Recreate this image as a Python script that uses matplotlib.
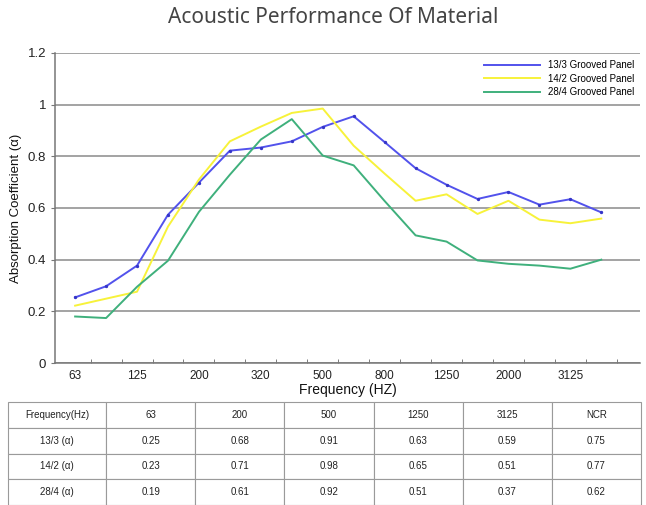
import matplotlib.pyplot as plt
import numpy as np

# frequency bands on the x axis (only every other one is labelled)
freq_labels = ["63", "", "125", "", "200", "", "320", "", "500", "",
               "800", "", "1250", "", "2000", "", "3125", ""]

panel_13_3 = [0.254, 0.297, 0.377, 0.574, 0.698, 0.822, 0.834, 0.858, 0.914,
              0.955, 0.855, 0.754, 0.690, 0.635, 0.662, 0.613, 0.634, 0.583]
panel_14_2 = [0.222, 0.249, 0.276, 0.528, 0.710, 0.858, 0.915, 0.968, 0.985,
              0.841, 0.733, 0.628, 0.653, 0.577, 0.628, 0.555, 0.541, 0.559]
panel_28_4 = [0.180, 0.174, 0.295, 0.396, 0.585, 0.729, 0.865, 0.944, 0.803,
              0.765, 0.627, 0.494, 0.470, 0.397, 0.384, 0.377, 0.365, 0.400]

table_header = ["Frequency(Hz)", "63", "200", "500", "1250", "3125", "NCR"]
table_rows = [
    ["13/3 (α)", "0.25", "0.68", "0.91", "0.63", "0.59", "0.75"],
    ["14/2 (α)", "0.23", "0.71", "0.98", "0.65", "0.51", "0.77"],
    ["28/4 (α)", "0.19", "0.61", "0.92", "0.51", "0.37", "0.62"],
]

plt.rcParams["font.family"] = ["Liberation Sans", "DejaVu Sans"]

fig = plt.figure(figsize=(6.46, 5.05), dpi=100)
ax = fig.add_axes([55 / 646, 1 - 363 / 505, 585 / 646, 310 / 505])

x = np.arange(len(freq_labels))
ax.plot(x, panel_13_3, color="#5252ec", lw=1.4, label="13/3 Grooved Panel")
ax.plot(x, panel_13_3, color="#3535c8", lw=0, marker="o", ms=1.4)
ax.plot(x, panel_14_2, color="#f7f23a", lw=1.4, label="14/2 Grooved Panel")
ax.plot(x, panel_28_4, color="#3fb07c", lw=1.4, label="28/4 Grooved Panel")

ax.set_xlim(-0.65, 18.25)
ax.set_ylim(0, 1.2)
ax.set_xticks(x)
ax.set_xticklabels(freq_labels, fontsize=8.5, color="#222222")
ax.set_xticks(x + 0.5, minor=True)
ax.tick_params(axis="x", which="major", length=0, pad=5)
ax.tick_params(axis="x", which="minor", direction="in", length=3, color="#666666")

yt = [0, 0.2, 0.4, 0.6, 0.8, 1.0, 1.2]
ax.set_yticks(yt)
ax.set_yticklabels(["0", "0.2", "0.4", "0.6", "0.8", "1", "1.2"],
                   fontsize=9.5, color="#222222")
ax.tick_params(axis="y", length=3, color="#777777")
ax.grid(axis="y", color="#8a8a8a", lw=1.1)
ax.set_axisbelow(True)

for s in ["top", "right"]:
    ax.spines[s].set_visible(False)
for s in ["left", "bottom"]:
    ax.spines[s].set_color("#777777")
    ax.spines[s].set_linewidth(1.1)

ax.set_xlabel("Frequency (HZ)", fontsize=10, color="#111111", labelpad=1)
ax.set_ylabel("Absorption Coefficient (α)", fontsize=9.5, color="#111111",
              labelpad=4)

leg = ax.legend(loc="upper right", bbox_to_anchor=(1.0, 0.995), frameon=False,
                fontsize=7, handlelength=5.8, labelspacing=0.35,
                borderaxespad=0.2)

fig.text(0.515, 0.965, "Acoustic Performance Of Material", ha="center",
         va="center", fontsize=15, color="#444444", family="Noto Sans")

# data table below the chart
tax = fig.add_axes([8 / 646, 0, 633 / 646, 103 / 505])
tax.axis("off")
tax.set_zorder(-1)
widths = [98] + [89] * 6
widths = [w / sum(widths) for w in widths]
tbl = tax.table(cellText=[table_header] + table_rows, colWidths=widths,
                cellLoc="center", bbox=[0, 0, 1, 1])
tbl.auto_set_font_size(False)
for (r, c), cell in tbl.get_celld().items():
    cell.set_edgecolor("#9a9a9a")
    cell.set_linewidth(0.8)
    cell.get_text().set_fontsize(7)
    cell.get_text().set_color("#222222")

fig.savefig("out.png", dpi=100)
